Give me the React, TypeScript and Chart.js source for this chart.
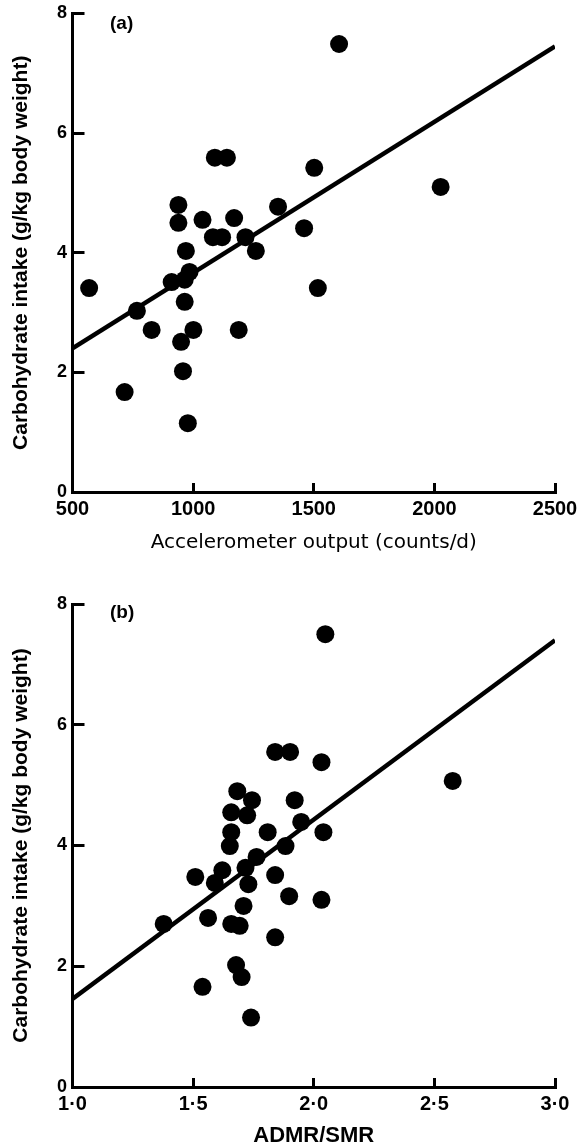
import React, { useEffect, useRef } from "react";
import { Chart, registerables } from "chart.js";

Chart.register(...registerables);

// ---- Panel (a): accelerometer output vs carbohydrate intake ----
const accelerometerCounts = [1605, 1090, 1140, 1502, 2026, 939, 939, 1039, 1170, 1352, 1460, 1082, 1120, 1217, 1260, 970, 569, 1517, 911, 985, 965, 965, 767, 828, 1001, 1189, 950, 958, 716, 978];
const carbIntakeA = [7.49, 5.59, 5.59, 5.42, 5.1, 4.8, 4.5, 4.55, 4.58, 4.77, 4.41, 4.26, 4.26, 4.26, 4.03, 4.03, 3.41, 3.41, 3.51, 3.68, 3.55, 3.18, 3.03, 2.71, 2.71, 2.71, 2.51, 2.02, 1.67, 1.15];
const fitLineAX = [500, 2500];
const fitLineAY = [2.4, 7.45];
const xTickLabelsA = ["500", "1000", "1500", "2000", "2500"];

// ---- Panel (b): ADMR/SMR vs carbohydrate intake ----
const admrSmr = [2.048, 1.84, 1.902, 2.032, 2.576, 1.683, 1.744, 1.921, 1.658, 1.724, 1.948, 1.658, 1.809, 2.04, 1.652, 1.883, 1.763, 1.621, 1.717, 1.84, 1.509, 1.59, 1.729, 1.898, 2.032, 1.709, 1.562, 1.378, 1.658, 1.693, 1.84, 1.678, 1.701, 1.539, 1.74];
const carbIntakeB = [7.5, 5.55, 5.55, 5.38, 5.07, 4.9, 4.75, 4.75, 4.55, 4.5, 4.39, 4.22, 4.22, 4.22, 3.99, 3.99, 3.81, 3.59, 3.63, 3.51, 3.48, 3.38, 3.36, 3.16, 3.1, 3.0, 2.8, 2.7, 2.7, 2.67, 2.48, 2.02, 1.82, 1.66, 1.15];
const fitLineBX = [1.0, 3.0];
const fitLineBY = [1.46, 7.4];
const xTickLabelsB = ["1·0", "1·5", "2·0", "2·5", "3·0"];

const yTickLabels = ["0", "2", "4", "6", "8"];
const yTitle = "Carbohydrate intake (g/kg body weight)";

const SANS = '"Liberation Sans", Arial, Helvetica, sans-serif';
const WIDE = '"DejaVu Sans", "Liberation Sans", sans-serif';

const panelLabelPlugin = {
  id: "panelLabel",
  afterDraw(chart: any, _args: any, opts: any) {
    const { ctx, chartArea } = chart;
    ctx.save();
    ctx.font = `bold 19px ${SANS}`;
    ctx.fillStyle = "#000";
    ctx.textAlign = "left";
    ctx.textBaseline = "alphabetic";
    ctx.fillText(opts.text, chartArea.left + opts.dx, chartArea.top + opts.dy);
    ctx.restore();
  },
};

type PanelSpec = {
  xs: number[];
  ys: number[];
  fitX: number[];
  fitY: number[];
  xMin: number;
  xMax: number;
  xStep: number;
  xLabels: string[];
  xTitle: string;
  xTitleFont: any;
  xTitlePadBottom: number;
  xScaleHeight: number;
  padTop: number;
  label: string;
  labelDy: number;
};

function buildConfig(p: PanelSpec): any {
  return {
    type: "scatter",
    data: {
      datasets: [
        {
          data: p.xs.map((x, i) => ({ x, y: p.ys[i] })),
          backgroundColor: "#000",
          borderWidth: 0,
          pointRadius: 9,
          pointHoverRadius: 9,
        },
        {
          data: p.fitX.map((x, i) => ({ x, y: p.fitY[i] })),
          showLine: true,
          borderColor: "#000",
          borderWidth: 4.5,
          pointRadius: 0,
          fill: false,
          tension: 0,
        },
      ],
    },
    options: {
      responsive: false,
      animation: false,
      devicePixelRatio: 1,
      layout: { padding: { left: 0, right: 25, top: p.padTop, bottom: 0 } },
      plugins: {
        legend: { display: false },
        tooltip: { enabled: false },
        panelLabel: { text: p.label, dx: 37.5, dy: p.labelDy },
      },
      scales: {
        x: {
          type: "linear",
          min: p.xMin,
          max: p.xMax,
          ticks: {
            stepSize: p.xStep,
            autoSkip: false,
            maxRotation: 0,
            padding: 14,
            color: "#000",
            font: { family: SANS, size: 20, weight: "bold" },
            callback: (_v: any, i: number) => p.xLabels[i],
          },
          grid: {
            display: true,
            drawOnChartArea: false,
            drawTicks: true,
            tickLength: -9,
            tickWidth: 3,
            tickColor: "#000",
            color: "#000",
          },
          border: { display: true, width: 3, color: "#000" },
          title: {
            display: true,
            text: p.xTitle,
            color: "#000",
            font: p.xTitleFont,
            padding: { top: 0, bottom: p.xTitlePadBottom },
          },
          afterFit: (s: any) => {
            s.height = p.xScaleHeight;
            s.paddingLeft = 0;
            s.paddingRight = 0;
          },
        },
        y: {
          type: "linear",
          min: 0,
          max: 8,
          ticks: {
            stepSize: 2,
            padding: 17.5,
            color: "#000",
            font: { family: SANS, size: 18, weight: "bold" },
            callback: (_v: any, i: number) => yTickLabels[i],
          },
          grid: {
            display: true,
            drawOnChartArea: false,
            drawTicks: true,
            tickLength: -12,
            tickWidth: 3,
            tickColor: "#000",
            color: "#000",
          },
          border: { display: true, width: 3, color: "#000" },
          title: {
            display: true,
            text: yTitle,
            color: "#000",
            font: { family: SANS, size: 21, weight: "bold" },
            padding: { top: 9, bottom: 0 },
          },
          afterFit: (s: any) => {
            s.width = 72.5;
            s.paddingTop = 0;
            s.paddingBottom = 0;
          },
        },
      },
    },
    plugins: [panelLabelPlugin],
  };
}

function Panel({ spec, width, height, top }: { spec: PanelSpec; width: number; height: number; top: number }) {
  const ref = useRef<HTMLCanvasElement | null>(null);
  useEffect(() => {
    if (!ref.current) return;
    const chart = new Chart(ref.current, buildConfig(spec));
    return () => chart.destroy();
  }, []);
  return (
    <canvas
      ref={ref}
      width={width}
      height={height}
      style={{ position: "absolute", left: 0, top, width, height, display: "block" }}
    />
  );
}

const specA: PanelSpec = {
  xs: accelerometerCounts,
  ys: carbIntakeA,
  fitX: fitLineAX,
  fitY: fitLineAY,
  xMin: 500,
  xMax: 2500,
  xStep: 500,
  xLabels: xTickLabelsA,
  xTitle: "Accelerometer output (counts/d)",
  xTitleFont: { family: WIDE, size: 20, weight: "normal" },
  xTitlePadBottom: 15.5,
  xScaleHeight: 78,
  padTop: 13.5,
  label: "(a)",
  labelDy: 15.5,
};

const specB: PanelSpec = {
  xs: admrSmr,
  ys: carbIntakeB,
  fitX: fitLineBX,
  fitY: fitLineBY,
  xMin: 1.0,
  xMax: 3.0,
  xStep: 0.5,
  xLabels: xTickLabelsB,
  xTitle: "ADMR/SMR",
  xTitleFont: { family: SANS, size: 22, weight: "bold", lineHeight: 1 },
  xTitlePadBottom: 0,
  xScaleHeight: 60,
  padTop: 34,
  label: "(b)",
  labelDy: 14,
};

export default function App() {
  return (
    <div style={{ position: "absolute", left: 0, top: 0, width: 580, height: 1147, background: "#fff", overflow: "hidden" }}>
      <Panel spec={specA} width={580} height={570} top={0} />
      <Panel spec={specB} width={580} height={577} top={570} />
    </div>
  );
}
